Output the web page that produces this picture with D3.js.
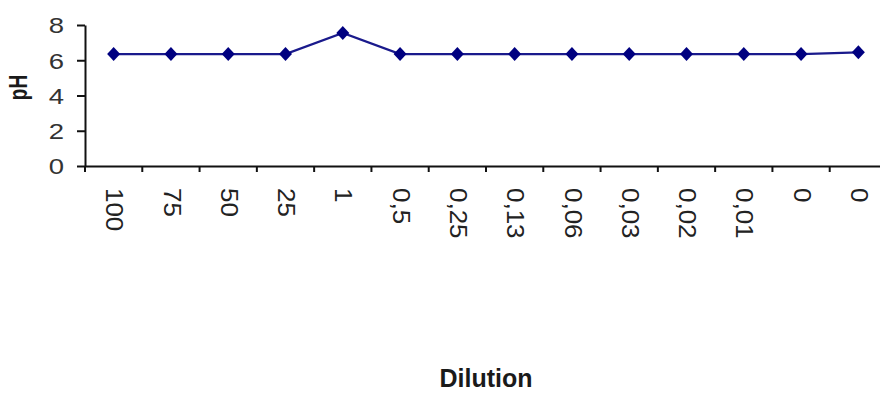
<!DOCTYPE html>
<html>
<head>
<meta charset="utf-8">
<script src="https://cdn.jsdelivr.net/npm/d3@7"></script>
<style>
	body { margin: 0; background: #fff; }
	text { font-family: Arial, "Liberation Sans", sans-serif; fill: #1a1a1a; }
</style>
</head>
<body>
<script>
// dilution labels as shown on the x axis
var dilutions = ['100', '75', '50', '25', '1', '0,5', '0,25', '0,13', '0,06', '0,03', '0,02', '0,01', '0', '0'];
// pH reading per dilution
var phValues = [6.35, 6.35, 6.35, 6.35, 7.55, 6.35, 6.35, 6.35, 6.35, 6.35, 6.35, 6.35, 6.35, 6.45];
var yTicks = [0, 2, 4, 6, 8];

var width = 880,
	height = 394;

var margin = { left: 85, top: 25, right: -7, bottom: 228 };

var svg = d3.select('body').append('svg')
	.attr('width', width)
	.attr('height', height);

var idx = d3.range(dilutions.length);

var x = d3.scaleBand()
	.domain(idx)
	.range([margin.left, width - margin.right])
	.padding(0);

var y = d3.scaleLinear()
	.domain([0, 8])
	.range([height - margin.bottom, margin.top]);

var bw = x.bandwidth();

// x axis, ticks sit between categories
var xAxis = svg.append('g')
	.attr('transform', 'translate(0,' + y(0) + ')')
	.call(d3.axisBottom(x).tickSize(6).tickSizeOuter(0).tickFormat(function(d) { return dilutions[d]; }));

xAxis.select('.domain').attr('stroke', '#111').attr('stroke-width', 2);
xAxis.selectAll('.tick line')
	.attr('x1', -bw / 2)
	.attr('x2', -bw / 2)
	.attr('stroke', '#111')
	.attr('stroke-width', 2);
xAxis.selectAll('.tick text')
	.attr('x', 0)
	.attr('y', 0)
	.attr('dy', '0.36em')
	.attr('text-anchor', 'start')
	.attr('transform', 'translate(1,22) rotate(90) scale(1.18,1.05)')
	.style('font-size', '22px')
	.style('fill', '#222');

// y axis
var yAxis = svg.append('g')
	.attr('transform', 'translate(' + margin.left + ',0)')
	.call(d3.axisLeft(y).tickValues(yTicks).tickSize(8).tickSizeOuter(0));

yAxis.select('.domain').attr('stroke', '#111').attr('stroke-width', 2);
yAxis.selectAll('.tick line').attr('stroke', '#111').attr('stroke-width', 2);
yAxis.selectAll('.tick text')
	.attr('x', 0)
	.attr('dy', '0.36em')
	.attr('transform', 'translate(-21,0) scale(1.25,1)')
	.style('font-size', '22px')
	.style('fill', '#333');

// axis titles
svg.append('text')
	.attr('transform', 'translate(27,' + (y(4) - 8) + ') rotate(-90) scale(1,1.35)')
	.attr('text-anchor', 'middle')
	.style('font-size', '19px')
	.style('font-weight', 'bold')
	.text('pH');

svg.append('text')
	.attr('x', margin.left + (width - margin.right - margin.left) / 2)
	.attr('y', 387)
	.attr('text-anchor', 'middle')
	.style('font-size', '25px')
	.style('font-weight', 'bold')
	.text('Dilution');

// series line
var line = d3.line()
	.x(function(d, i) { return x(i) + bw / 2; })
	.y(function(d) { return y(d); });

svg.append('path')
	.datum(phValues)
	.attr('fill', 'none')
	.attr('stroke', '#1a1a8c')
	.attr('stroke-width', 2.2)
	.attr('d', line);

// diamond markers
svg.selectAll('.marker')
	.data(phValues)
	.enter().append('path')
	.attr('class', 'marker')
	.attr('transform', function(d, i) { return 'translate(' + (x(i) + bw / 2) + ',' + y(d) + ')'; })
	.attr('d', 'M0,-7L6.5,0L0,7L-6.5,0Z')
	.attr('fill', '#000080');
</script>
</body>
</html>
